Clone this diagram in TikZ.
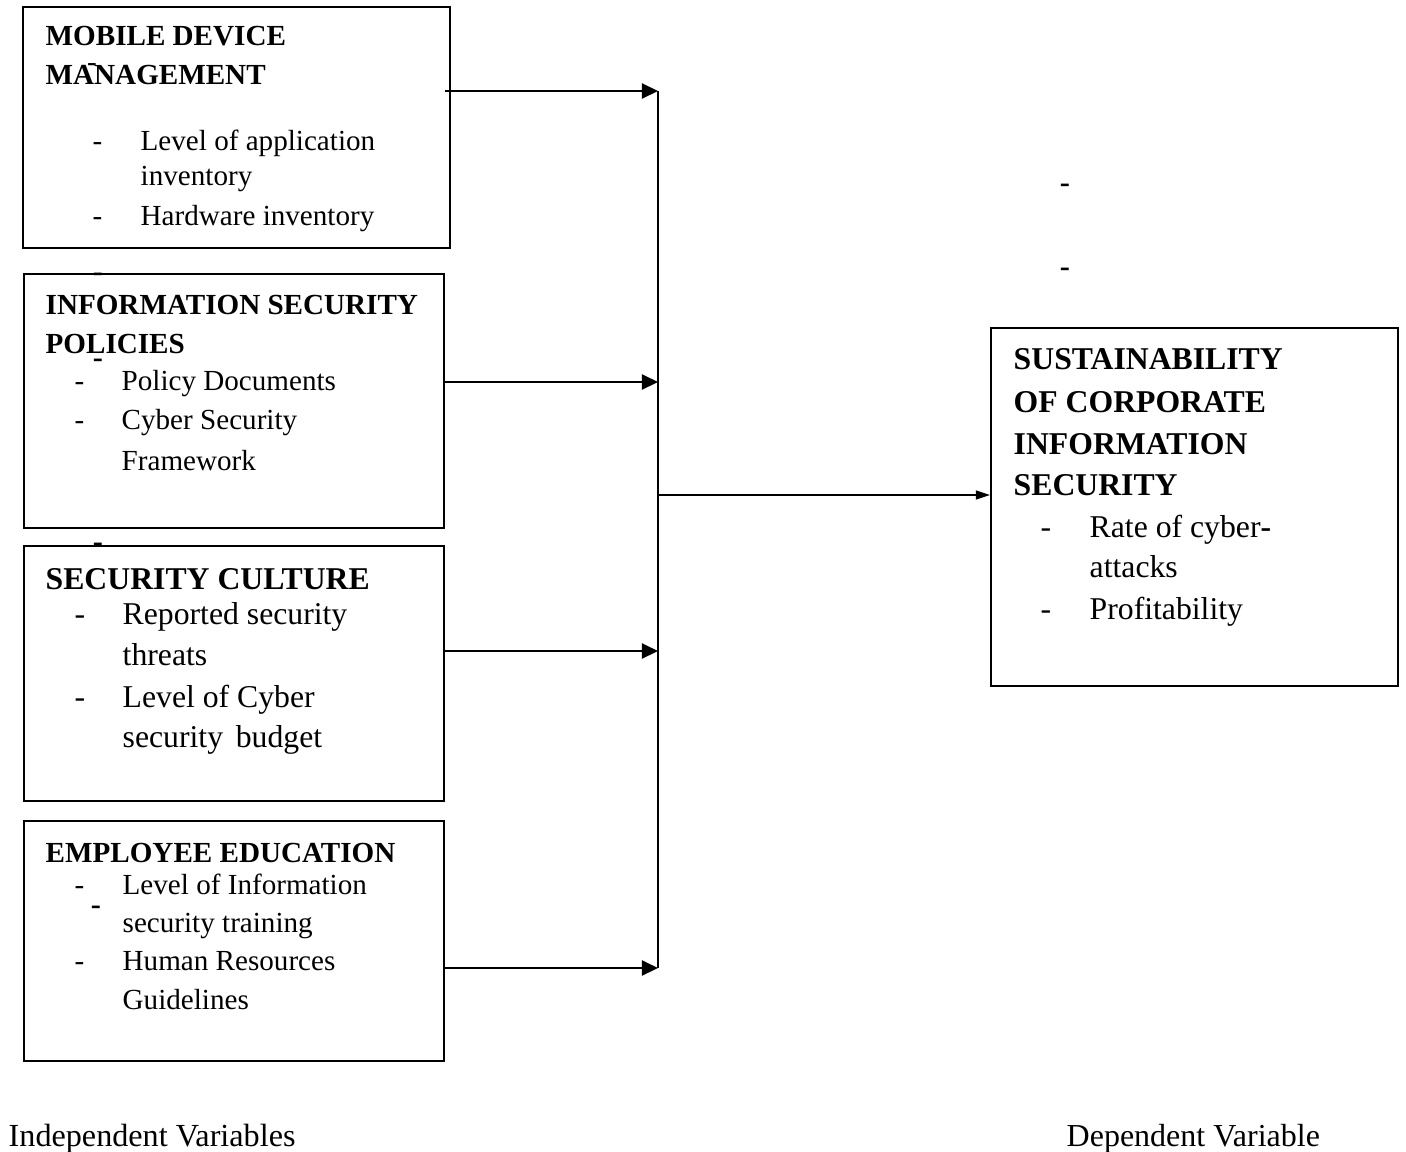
\documentclass[tikz,border=0pt]{standalone}
\usepackage{fontspec}
\setmainfont{Liberation Serif}
\usetikzlibrary{arrows.meta}
\tikzset{
varbox/.style={draw=black, line width=0.02cm, inner sep=0pt, rectangle}, % the variable boxes
txt/.style={anchor=base west, inner sep=0pt, font=\fontsize{8.28}{10}\selectfont},
bigtxt/.style={anchor=base west, inner sep=0pt, font=\fontsize{9.02}{11}\selectfont},
head/.style={txt, font=\fontsize{8.28}{10}\selectfont\bfseries},
bighead/.style={bigtxt, font=\fontsize{9.02}{11}\selectfont\bfseries},
stray/.style={anchor=base, inner sep=0pt, font=\fontsize{8.6}{10}\selectfont\bfseries},
feed/.style={line width=0.02cm, -{Triangle[length=0.16cm,width=0.15cm]}},
mainfeed/.style={line width=0.013cm, -{Triangle[length=0.14cm,width=0.09cm]}}
}
\begin{document}
\begin{tikzpicture}[x=0.01cm, y=-0.01cm]
    \useasboundingbox (0,0) rectangle (1406,1151);
    % boxes
    \node[varbox, minimum width=4.27cm, minimum height=2.41cm] (mdm) at (236.5,127.5) {};
    \node[varbox, minimum width=4.20cm, minimum height=2.54cm] (isp) at (234,401) {};
    \node[varbox, minimum width=4.20cm, minimum height=2.55cm] (sc) at (234,673.5) {};
    \node[varbox, minimum width=4.20cm, minimum height=2.40cm] (ee) at (234,941) {};
    \node[varbox, minimum width=4.07cm, minimum height=3.58cm] (scis) at (1194.5,507) {};
    % mobile device management
    \node[head] (mdm-h1) at (45,45) {MOBILE DEVICE};
    \node[head] (mdm-h2) at (45,84) {MANAGEMENT};
    \node[txt] (mdm-d1) at (92,150) {-};
    \node[txt] (mdm-d2) at (92,225) {-};
    \node[txt] (mdm-t1) at (140,150) {Level of application};
    \node[txt] (mdm-t2) at (140,185) {inventory};
    \node[txt] (mdm-t3) at (140,225) {Hardware inventory};
    % information security policies
    \node[head] (isp-h1) at (45,314) {INFORMATION SECURITY};
    \node[head] (isp-h2) at (45,353) {POLICIES};
    \node[txt] (isp-d1) at (74,390) {-};
    \node[txt] (isp-d2) at (74,429) {-};
    \node[txt] (isp-t1) at (121,390) {Policy Documents};
    \node[txt] (isp-t2) at (121,429) {Cyber Security};
    \node[txt] (isp-t3) at (121,470) {Framework};
    % security culture
    \node[bighead] (sc-h1) at (45,589) {SECURITY CULTURE};
    \node[bigtxt] (sc-d1) at (74,624) {-};
    \node[bigtxt] (sc-d2) at (74,707) {-};
    \node[bigtxt] (sc-t1) at (122,624) {Reported security};
    \node[bigtxt] (sc-t2) at (122,665) {threats};
    \node[bigtxt] (sc-t3) at (122,707) {Level of Cyber};
    \node[bigtxt] (sc-t4) at (122,747) {security\hspace{0.15em} budget};
    % employee education
    \node[head] (ee-h1) at (45,862) {EMPLOYEE EDUCATION};
    \node[txt] (ee-d1) at (74,894) {-};
    \node[txt] (ee-d2) at (74,970) {-};
    \node[txt] (ee-t1) at (122,894) {Level of Information};
    \node[txt] (ee-t2) at (122,932) {security training};
    \node[txt] (ee-t3) at (122,970) {Human Resources};
    \node[txt] (ee-t4) at (122,1009) {Guidelines};
    % sustainability of corporate information security
    \node[bighead] (scis-h1) at (1013,369) {SUSTAINABILITY};
    \node[bighead] (scis-h2) at (1013,412) {OF CORPORATE};
    \node[bighead] (scis-h3) at (1013,454) {INFORMATION};
    \node[bighead] (scis-h4) at (1013,495) {SECURITY};
    \node[bigtxt] (scis-d1) at (1040,537) {-};
    \node[bigtxt] (scis-d2) at (1040,619) {-};
    \node[bigtxt] (scis-t1) at (1089,537) {Rate of cyber\textbf{-}};
    \node[bigtxt] (scis-t2) at (1089,577) {attacks};
    \node[bigtxt] (scis-t3) at (1089,619) {Profitability};
    % loose dashes
    \node[stray, font=\fontsize{8.28}{10}\selectfont] (s1) at (92,71) {-};
    \node[stray] (s2) at (98,281) {-};
    \node[stray] (s3) at (98,367) {-};
    \node[stray] (s4) at (98,551) {-};
    \node[stray] (s5) at (96,914) {-};
    \node[stray] (s6) at (1065,192) {-};
    \node[stray] (s7) at (1065,276) {-};
    % connectors
    \coordinate (bus1) at (658,91);
    \coordinate (bus2) at (658,382);
    \coordinate (bus3) at (658,651);
    \coordinate (bus4) at (658,968);
    \coordinate (busm) at (658,495);
    \draw[line width=0.018cm] (bus1) -- (bus4);
    \draw[feed] ([xshift=-0.06cm]mdm.east |- bus1) -- (bus1);
    \draw[feed] (isp.east |- bus2) -- (bus2);
    \draw[feed] (sc.east |- bus3) -- (bus3);
    \draw[feed] (ee.east |- bus4) -- (bus4);
    \draw[mainfeed] (busm) -- (scis.west |- busm);
    % captions
    \node[anchor=base west, inner sep=0pt, font=\fontsize{9.15}{11}\selectfont] (indep) at (8,1146) {Independent Variables};
    \node[anchor=base west, inner sep=0pt, font=\fontsize{9.1}{11}\selectfont] (dep) at (1066,1146) {Dependent Variable};
\end{tikzpicture}
\end{document}
